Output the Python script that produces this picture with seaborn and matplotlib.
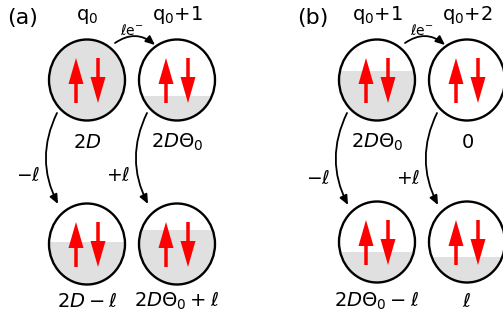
import matplotlib
matplotlib.use("Agg")
import matplotlib.pyplot as plt
import seaborn as sns
from matplotlib.patches import Ellipse, Rectangle, FancyArrow, FancyArrowPatch

# panel (a) and (b) content
panel_tags = ['(a)', '(b)']
charge_labels = [['q$_0$', 'q$_0$+1'], ['q$_0$+1', 'q$_0$+2']]
top_states = [['$2D$', r'$2D\Theta_0$'], [r'$2D\Theta_0$', '$0$']]
bottom_states = [[r'$2D-\ell$', r'$2D\Theta_0+\ell$'],
                 [r'$2D\Theta_0-\ell$', r'$\ell$']]
transfer_labels = [r'$\ell$e$^{-}$', r'$\ell$e$^{-}$']
shift_labels = [r'$-\ell$', r'$+\ell$']
# filled fraction of each dot (top-left, top-right, bottom-left, bottom-right)
fill_top = [[1.0, 0.30], [0.61, 0.0]]
fill_bottom = [[0.53, 0.67], [0.38, 0.31]]

GRAY = '#e0e0e0'
RED = '#ff0000'

sns.set_style('white')
plt.rcParams['font.family'] = ['DejaVu Sans']
plt.rcParams['mathtext.fontset'] = 'dejavusans'
plt.rcParams['text.color'] = 'black'

fig = plt.figure(figsize=(5.03, 3.20), dpi=100)
ax = fig.add_axes([0, 0, 1, 1])
ax.set_xlim(0, 503)
ax.set_ylim(320, 0)
ax.axis('off')

W, H = 76, 81
panel_x = [87, 377]
dx_col = 90
row_y = [80, 244]


def draw_dot(cx, cy, frac):
    ell = Ellipse((cx, cy), W, H, facecolor='white', edgecolor='none', zorder=1)
    ax.add_patch(ell)
    if frac > 0:
        level = cy + H / 2 - frac * H
        rect = Rectangle((cx - W / 2, level), W, cy + H / 2 - level + 1,
                         facecolor=GRAY, edgecolor='none', zorder=2)
        ax.add_patch(rect)
        rect.set_clip_path(ell)
    ax.add_patch(Ellipse((cx, cy), W, H, facecolor='none', edgecolor='black',
                         lw=1.7, zorder=3))
    # spin up / spin down
    ax.add_patch(FancyArrow(cx - 11, cy + 23, 0, -45, width=3.5, head_width=15,
                            head_length=26, length_includes_head=True,
                            color=RED, lw=0, zorder=4))
    ax.add_patch(FancyArrow(cx + 11, cy - 22, 0, 45, width=3.5, head_width=15,
                            head_length=26, length_includes_head=True,
                            color=RED, lw=0, zorder=4))


def curved(p0, p1, rad):
    ax.add_patch(FancyArrowPatch(p0, p1, connectionstyle=f'arc3,rad={rad}',
                                 arrowstyle='-|>,head_length=5.5,head_width=2.4',
                                 color='black', lw=1.3, shrinkA=0, shrinkB=0,
                                 zorder=5))


for p, x0 in enumerate(panel_x):
    xs = [x0, x0 + dx_col]
    ax.text(xs[0] - 64, 24, panel_tags[p], fontsize=16, ha='center', va='baseline')
    for c in range(2):
        ax.text(xs[c], 20, charge_labels[p][c], fontsize=14, ha='center', va='baseline')
        draw_dot(xs[c], row_y[0], fill_top[p][c])
        draw_dot(xs[c], row_y[1] - 2 * p, fill_bottom[p][c])
        ax.text(xs[c], 148, top_states[p][c], fontsize=14, ha='center', va='baseline')
        ax.text(xs[c], 307, bottom_states[p][c], fontsize=14, ha='center', va='baseline')
        # vertical transitions
        curved((xs[c] - 30, 113), (xs[c] - 29, 204 + p), 0.25)
        ax.text(xs[c] - 59, 181 + 3 * p, shift_labels[c], fontsize=13.5,
                ha='center', va='baseline')
    # electron transfer
    curved((xs[0] + 28, 43), (xs[1] - 22, 45), -0.38)
    ax.text((xs[0] + xs[1]) / 2, 35, transfer_labels[p], fontsize=10,
            ha='center', va='baseline')

fig.savefig('out.png', dpi=100)
